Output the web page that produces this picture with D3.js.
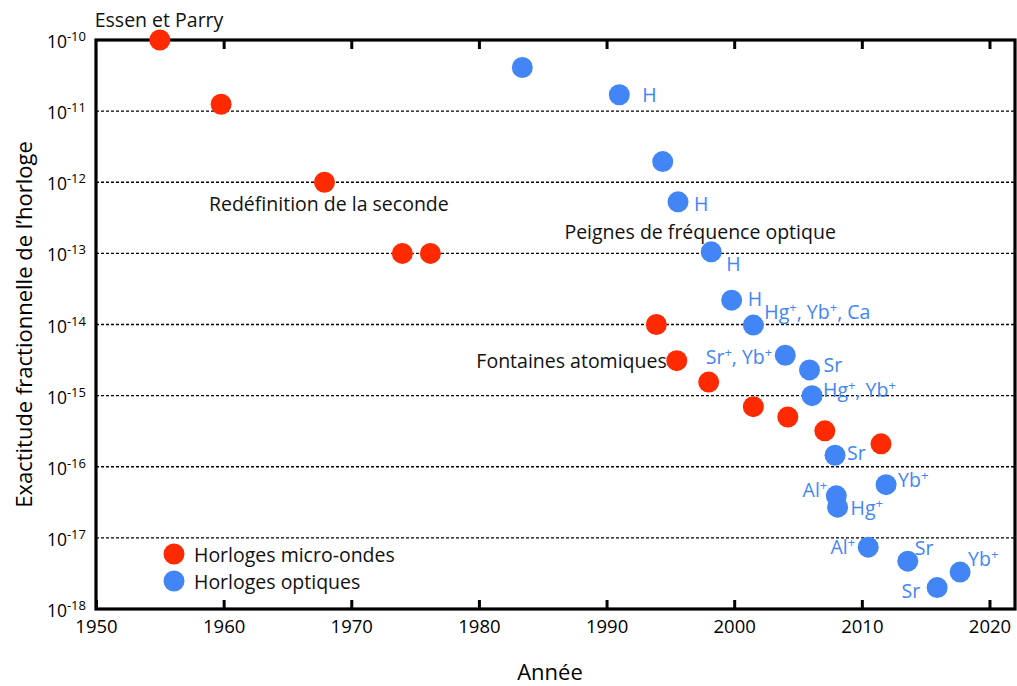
<!DOCTYPE html>
<html>
<head>
<meta charset="utf-8">
<script src="https://cdn.jsdelivr.net/npm/d3@7"></script>
<style>
  body { margin: 0; background: #fff; }
  text { font-family: "Open Sans", "Noto Sans", sans-serif; }
</style>
</head>
<body>
<svg id="chart" width="1017" height="686"></svg>
<script>
// ---- data ----
const microYears  = [1955.0, 1959.8, 1967.9, 1974.0, 1976.2, 1993.9, 1995.5, 1998.0, 2001.5, 2004.2, 2007.1, 2011.5];
const microValues = [1.0e-10, 1.25e-11, 1.0e-12, 1.0e-13, 1.0e-13, 1.0e-14, 3.1e-15, 1.55e-15, 7.0e-16, 5.0e-16, 3.2e-16, 2.1e-16];

const opticYears  = [1983.4, 1991.0, 1994.4, 1995.6, 1998.2, 1999.8, 2001.5, 2004.0, 2005.9, 2006.1, 2007.9, 2011.9, 2008.0, 2008.1, 2010.5, 2013.6, 2015.9, 2017.7];
const opticValues = [4.1e-11, 1.7e-11, 1.95e-12, 5.3e-13, 1.05e-13, 2.2e-14, 9.8e-15, 3.7e-15, 2.3e-15, 1.0e-15, 1.45e-16, 5.6e-17, 3.9e-17, 2.7e-17, 7.4e-18, 4.7e-18, 2.0e-18, 3.3e-18];
const opticLabels = ["", "H", "", "H", "H", "H", "Hg⁺, Yb⁺, Ca", "Sr⁺, Yb⁺", "Sr", "Hg⁺, Yb⁺", "Sr", "Yb⁺", "Al⁺", "Hg⁺", "Al⁺", "Sr", "Sr", "Yb⁺"];

const xTicks = [1950, 1960, 1970, 1980, 1990, 2000, 2010, 2020];
const yExponents = [-10, -11, -12, -13, -14, -15, -16, -17, -18];

const noteTexts  = ["Essen et Parry", "Redéfinition de la seconde", "Peignes de fréquence optique", "Fontaines atomiques"];
const noteYears  = [1949.9, 1958.85, 1986.7, 1979.8];
const noteValues = [1.52e-10, 3.94e-13, 1.59e-13, 2.44e-15];

const legendNames = ["Horloges micro-ondes", "Horloges optiques"];
const xTitle = "Année";
const yTitle = "Exactitude fractionnelle de l’horloge";

// ---- layout / style ----
const RED = "#ff2a00", BLUE = "#4286f5";
const mLeft = 96, mRight = 1015, mTop = 40, mBottom = 609;
const R = 10.5;
const FS = 19.5;
// label offsets for optical labels [dx, dy(baseline), anchor]
const labelPos = [
  null, [23, 7, "start"], null, [16, 9, "start"], [15, 19, "start"], [16, 6, "start"],
  [11, -6, "start"], [-13, 9, "end"], [14, 2, "start"], [11, 1, "start"], [12, 5, "start"],
  [12, 2, "start"], [-9, 1, "end"], [13, 8, "start"], [-13, 7, "end"], [7, -6, "start"],
  [-17, 10, "end"], [8, -6, "start"]
];

const svg = d3.select("#chart");
const x = d3.scaleLinear().domain([1950, 2022]).range([mLeft, mRight]);
const y = d3.scaleLog().domain([1e-18, 1e-10]).range([mBottom, mTop]);

// gridlines
svg.append("g").selectAll("line")
  .data(yExponents.filter(e => e !== -10 && e !== -18))
  .join("line")
  .attr("x1", mLeft).attr("x2", mRight)
  .attr("y1", e => y(Math.pow(10, e))).attr("y2", e => y(Math.pow(10, e)))
  .attr("stroke", "#000").attr("stroke-width", 1.3).attr("stroke-dasharray", "3,2");

// frame
svg.append("rect").attr("x", mLeft).attr("y", mTop)
  .attr("width", mRight - mLeft).attr("height", mBottom - mTop)
  .attr("fill", "none").attr("stroke", "#000").attr("stroke-width", 3.2);

// x ticks inward, top and bottom
const xb = svg.append("g").attr("transform", `translate(0,${mBottom})`)
  .call(d3.axisBottom(x).tickValues(xTicks).tickFormat(d3.format("d")).tickSizeInner(-9).tickSizeOuter(0).tickPadding(11));
xb.select(".domain").remove();
xb.selectAll(".tick line").attr("stroke-width", 3);
xb.selectAll(".tick text").attr("font-size", 18.5).attr("fill", "#000");

const xt = svg.append("g").attr("transform", `translate(0,${mTop})`)
  .call(d3.axisTop(x).tickValues(xTicks.filter(t => t > 1950 && t < 2022)).tickFormat("").tickSizeInner(-9).tickSizeOuter(0));
xt.select(".domain").remove();
xt.selectAll(".tick line").attr("stroke-width", 3);

// y tick labels
const yl = svg.append("g").selectAll("text").data(yExponents).join("text")
  .attr("x", 86).attr("y", e => y(Math.pow(10, e)) + 8)
  .attr("text-anchor", "end").attr("font-size", 17.5).attr("fill", "#000");
yl.append("tspan").text("10");
yl.append("tspan").attr("font-size", 13).attr("dy", -7).text(e => e);

// axis titles
svg.append("text").attr("x", 550).attr("y", 680)
  .attr("text-anchor", "middle").attr("font-size", 22).attr("fill", "#000").text(xTitle);
svg.append("text").attr("transform", `translate(32,${(mTop + mBottom) / 2}) rotate(-90)`)
  .attr("text-anchor", "middle").attr("font-size", 22).attr("fill", "#000").text(yTitle);

// points
const micro = microYears.map((d, i) => ({ year: d, value: microValues[i] }));
const optic = opticYears.map((d, i) => ({ year: d, value: opticValues[i], label: opticLabels[i], pos: labelPos[i] }));

svg.append("g").selectAll("circle").data(micro).join("circle")
  .attr("cx", d => x(d.year)).attr("cy", d => y(d.value)).attr("r", R).attr("fill", RED);
svg.append("g").selectAll("circle").data(optic).join("circle")
  .attr("cx", d => x(d.year)).attr("cy", d => y(d.value)).attr("r", R).attr("fill", BLUE);

// labels with raised "+" superscripts
const lbl = svg.append("g").selectAll("text").data(optic.filter(d => d.label)).join("text")
  .attr("x", d => x(d.year) + d.pos[0]).attr("y", d => y(d.value) + d.pos[1])
  .attr("text-anchor", d => d.pos[2]).attr("font-size", FS).attr("fill", BLUE);
lbl.each(function(d) {
  const t = d3.select(this);
  const parts = d.label.split("⁺");
  parts.forEach((p, k) => {
    if (p) t.append("tspan").attr("dy", k > 0 ? 7 : 0).text(p);
    else if (k > 0) {}
    if (k < parts.length - 1) {
      t.append("tspan").attr("font-size", 13).attr("dy", (k > 0 && !p) ? 0 : -7).text("+");
    }
  });
});

// black annotations
svg.append("g").selectAll("text").data(noteTexts).join("text")
  .attr("x", (d, i) => x(noteYears[i])).attr("y", (d, i) => y(noteValues[i]))
  .attr("font-size", FS).attr("fill", "#111").text(d => d);

// legend
const lg = svg.append("g").selectAll("g").data(legendNames).join("g")
  .attr("transform", (d, i) => `translate(174,${554 + i * 27})`);
lg.append("circle").attr("r", R).attr("fill", (d, i) => i === 0 ? RED : BLUE);
lg.append("text").attr("x", 20).attr("y", 8).attr("font-size", FS).attr("fill", "#111").text(d => d);
</script>
</body>
</html>
